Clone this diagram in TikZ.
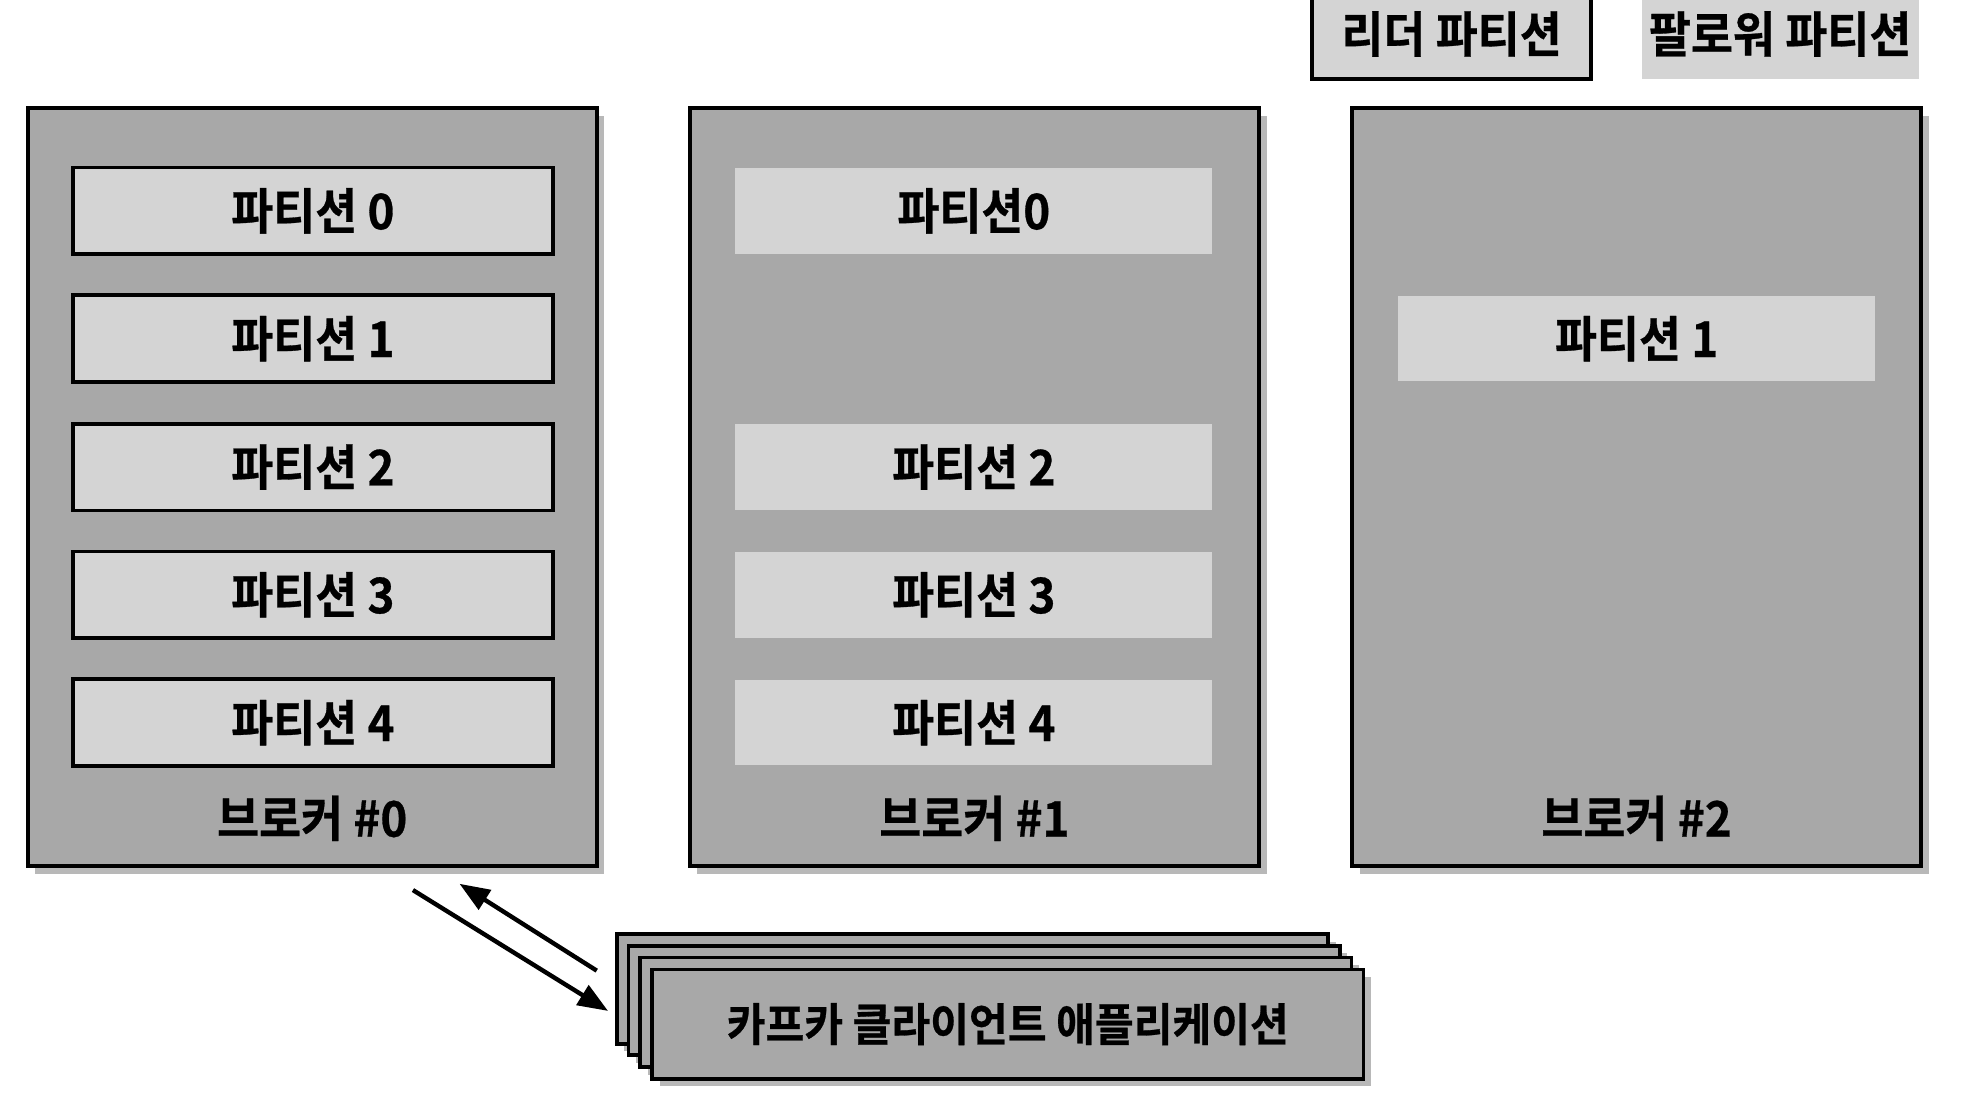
\documentclass[tikz,border=0pt]{standalone}
\usepackage{fontspec}
\setmainfont{Noto Sans CJK KR}[BoldFont={Noto Sans CJK KR Bold}, FakeStretch=0.93, BoldFeatures={FakeBold=0.6}]
\usetikzlibrary{arrows.meta,shadows}
\definecolor{brokergray}{HTML}{A8A8A8}
\definecolor{partgray}{HTML}{D4D4D4}
\tikzset{
  txt/.style={font=\bfseries\fontsize{39}{41}\selectfont, text=black},
  smalltxt/.style={font=\bfseries\fontsize{36}{38}\selectfont, text=black},
  shad/.style={drop shadow={shadow xshift=6pt, shadow yshift=-6pt, opacity=0.28, fill=black}},
  brokerbox/.style={draw=black, line width=3pt, fill=brokergray, minimum width=452pt, minimum height=602pt, inner sep=0pt, shad},
  leaderpart/.style={draw=black, line width=3pt, fill=partgray, minimum width=381pt, minimum height=69pt, inner sep=0pt, txt},
  followerpart/.style={fill=partgray, minimum width=379pt, minimum height=68pt, inner sep=0pt, txt},
  blabel/.style={inner sep=0pt, txt},
  clientbox/.style={draw=black, line width=3pt, fill=brokergray, minimum width=565pt, minimum height=87pt, inner sep=0pt, shad},
  flow/.style={line width=3.5pt, -{Triangle[length=24pt,width=18pt]}}
}
\begin{document}
\begin{tikzpicture}[x=1pt,y=-1pt]
\useasboundingbox (0,0) rectangle (1568,871);
% legend
\node[draw=black, line width=3pt, fill=partgray, minimum width=222pt, minimum height=80pt, inner sep=0pt] (legL) at (1153,23) {};
\node[txt] (legLt) at (1153,27) {리더 파티션};
\node[fill=partgray, minimum width=220pt, minimum height=75pt, inner sep=0pt] (legF) at (1414,25) {};
\node[txt] (legFt) at (1414,27) {팔로워 파티션};
% brokers
\node[brokerbox] (b0) at (248,387) {};
\node[brokerbox] (b1) at (774,387) {};
\node[brokerbox] (b2) at (1300,387) {};
% broker 0 partitions (leaders)
\node[leaderpart] (p00) at (248.5,167.5) {파티션 0};
\node[leaderpart] (p01) at (248.5,269) {파티션 1};
\node[leaderpart] (p02) at (248.5,371) {파티션 2};
\node[leaderpart] (p03) at (248.5,472.5) {파티션 3};
\node[leaderpart] (p04) at (248.5,574) {파티션 4};
% broker 1 partitions (followers)
\node[followerpart] (p10) at (773.5,167.5) {파티션0};
\node[followerpart] (p12) at (773.5,371) {파티션 2};
\node[followerpart] (p13) at (773.5,472.5) {파티션 3};
\node[followerpart] (p14) at (773.5,574) {파티션 4};
% broker 2 partitions
\node[followerpart] (p21) at (1300,269) {파티션 1};
% broker labels
\node[blabel] (l0) at (248,650) {브로커 \#0};
\node[blabel] (l1) at (774,650) {브로커 \#1};
\node[blabel] (l2) at (1300,650) {브로커 \#2};
% client stack
\node[clientbox] (c3) at (772.5,785.5) {};
\node[clientbox] (c2) at (781.7,794.8) {};
\node[clientbox] (c1) at (791,804) {};
\node[clientbox, smalltxt] (c0) at (800.5,813.5) {카프카 클라이언트 애플리케이션};
% arrows
\coordinate (a1s) at (328,707);
\coordinate (a1e) at (483,803);
\coordinate (a2s) at (474,771);
\coordinate (a2e) at (365,702);
\draw[flow] (a1s) -- (a1e);
\draw[flow] (a2s) -- (a2e);
\end{tikzpicture}
\end{document}
